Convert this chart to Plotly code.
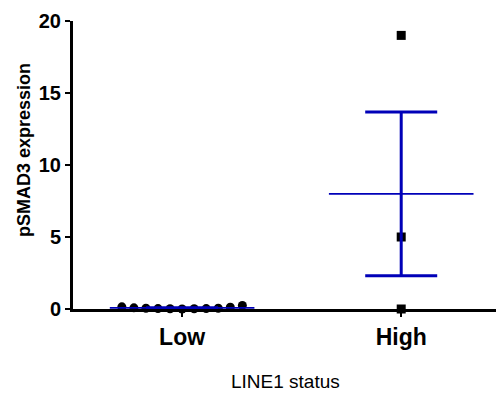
import numpy as np
import plotly.graph_objects as go

categories = ["Low", "High"]
low_values = [0.15, 0.08, 0.05, 0.03, 0.02, 0.0, 0.02, 0.03, 0.05, 0.12, 0.25]
high_values = [19.0, 5.0, 0.0]
y_ticks = [0, 5, 10, 15, 20]

BLUE = "#0000b8"
FONT = "Arial, Liberation Sans, sans-serif"

groups = [low_values, high_values]
symbols = ["circle", "square"]
centers = [1, 2]
spread = 0.055

fig = go.Figure()
for c, vals, sym in zip(centers, groups, symbols):
    n = len(vals)
    offs = (np.arange(n) - (n - 1) / 2) * spread if n > 3 else np.zeros(n)
    fig.add_trace(go.Scatter(
        x=c + offs, y=vals, mode="markers",
        marker=dict(symbol=sym, size=9, color="black"),
        cliponaxis=False, showlegend=False, hoverinfo="y"))

for c, vals in zip(centers, groups):
    arr = np.array(vals)
    mean = arr.mean()
    sem = arr.std(ddof=1) / np.sqrt(len(arr))
    fig.add_trace(go.Scatter(
        x=[c - 0.33, c + 0.33], y=[mean, mean], mode="lines",
        line=dict(color=BLUE, width=1.8), cliponaxis=False, showlegend=False))
    fig.add_trace(go.Scatter(
        x=[c], y=[mean], mode="markers",
        marker=dict(size=0.1, color=BLUE),
        error_y=dict(type="constant", value=sem, color=BLUE, thickness=3, width=36),
        cliponaxis=False, showlegend=False))

fig.update_layout(
    width=496, height=388,
    margin=dict(l=65, r=2, t=11, b=87),
    plot_bgcolor="white", paper_bgcolor="white",
    font=dict(family=FONT, color="black"),
    xaxis=dict(
        range=[0.502, 2.46], tickvals=centers, ticktext=categories,
        showline=True, linecolor="black", linewidth=3,
        ticks="outside", ticklen=5, tickwidth=2, tickcolor="black",
        tickfont=dict(size=23, weight="bold"),
        showgrid=False, zeroline=False),
    yaxis=dict(
        range=[0, 20], tickvals=y_ticks,
        showline=True, linecolor="black", linewidth=3,
        ticks="outside", ticklen=5, tickwidth=2, tickcolor="black",
        tickfont=dict(size=20, weight="bold"),
        showgrid=False, zeroline=False),
    annotations=[
        dict(text="LINE1 status", xref="paper", yref="paper", x=0.495, y=0,
             yshift=-72, xanchor="center", yanchor="middle", showarrow=False,
             font=dict(size=19)),
        dict(text="pSMAD3 expression", xref="paper", yref="paper", x=-0.114, y=0.552,
             xanchor="center", yanchor="middle", textangle=-90, showarrow=False,
             font=dict(size=18, weight="bold")),
    ],
)

fig.write_html("out.html")
